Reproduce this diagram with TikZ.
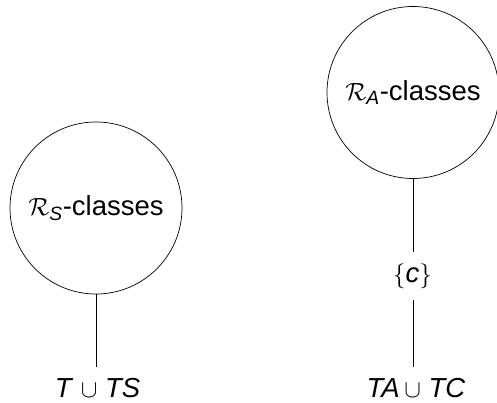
\documentclass[tikz,border=0pt]{standalone}
\usepackage{amsmath}
\usepackage{fontspec}
\setmainfont{Liberation Sans}
\begin{document}
\begin{tikzpicture}[x=1pt,y=1pt,
  txt/.style={font=\fontsize{27.5}{32}\selectfont},
  classbox/.style={circle,draw,line width=0.7pt,minimum size=172pt,inner sep=0pt,txt},
  labelbox/.style={inner sep=0pt,minimum height=#1,txt},
  basebox/.style={inner sep=0pt,anchor=base,txt},
  link/.style={line width=0.7pt}]
\useasboundingbox (0,0) rectangle (497,402);
% left branch
\node[classbox] (rs) at (96,194) {$\mathcal{R}_{\textit{S}}$-classes};
\node[basebox] (ts) at (97.5,4.5) {\textit{T} $\cup$ \textit{TS}};
\draw[link] (rs.south) -- ([yshift=11pt]rs.south |- ts.north);
% right branch
\node[classbox] (ra) at (413,309.5) {$\mathcal{R}_{\textit{A}}$-classes};
\node[labelbox=48pt] (c) at (412.5,126) {$\{$\textit{c}$\}$};
\node[basebox] (tc) at (416,4.5) {\textit{TA}\,$\cup$ \textit{TC}};
\draw[link] (ra.south) -- (ra.south |- c.north);
\draw[link] (ra.south |- c.south) -- ([yshift=11pt]ra.south |- tc.north);
\end{tikzpicture}
\end{document}
